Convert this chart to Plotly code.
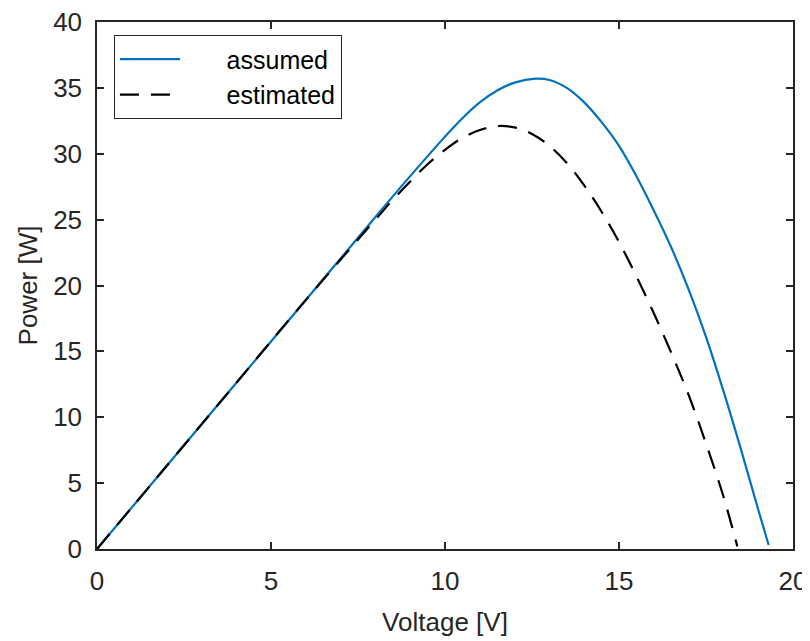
import plotly.graph_objects as go

# assumed curve (blue, solid)
v_assumed = [0, 2, 4, 6, 8, 9, 10, 10.5, 11, 11.5, 12, 12.6, 13, 13.5, 14, 14.5, 15,
             15.5, 16, 16.5, 17, 17.5, 18, 18.5, 19, 19.3]
p_assumed = [0, 6.3, 12.6, 18.9, 25.2, 28.3, 31.3, 32.7, 33.9, 34.8, 35.4, 35.7, 35.6, 35.0, 33.9, 32.4, 30.6,
             28.3, 25.7, 22.9, 19.7, 16.1, 12.0, 7.6, 3.0, 0.3]

# estimated curve (black, dashed)
v_estimated = [0, 2, 4, 6, 8, 8.5, 9, 9.5, 10, 10.5, 11, 11.5, 12, 12.5, 13, 13.5, 14,
               14.5, 15, 15.5, 16, 16.5, 17, 17.5, 18, 18.4]
p_estimated = [0, 6.3, 12.6, 18.9, 25.0, 26.5, 27.9, 29.2, 30.3, 31.2, 31.8, 32.1, 32.0, 31.5, 30.6, 29.3, 27.6,
               25.6, 23.3, 20.7, 17.9, 14.9, 11.7, 8.0, 4.0, 0.2]

x_ticks = [0, 5, 10, 15, 20]
y_ticks = [0, 5, 10, 15, 20, 25, 30, 35, 40]

txt = '#262626'
pad = '\u00a0' * 6  # widen legend like matlab's long line samples

fig = go.Figure()
fig.add_trace(go.Scatter(x=v_assumed, y=p_assumed, mode='lines', name=pad + 'assumed',
                         line=dict(color='#0072BD', width=2.2, shape='spline', smoothing=1)))
fig.add_trace(go.Scatter(x=v_estimated, y=p_estimated, mode='lines', name=pad + 'estimated',
                         line=dict(color='black', width=2.2, dash='19px,12px', shape='spline', smoothing=1)))

axis_style = dict(showline=True, linecolor=txt, linewidth=1.5, mirror='ticks',
                  ticks='inside', ticklen=7, tickwidth=1.5, tickcolor=txt,
                  showgrid=False, zeroline=False, automargin=False,
                  ticklabelstandoff=8, ticklabeloverflow='allow',
                  tickfont=dict(family='Liberation Sans, Arial', size=26, color=txt))

# page body adds 8px offset, so size/margins are shifted accordingly
fig.update_layout(
    width=802, height=633,
    plot_bgcolor='white', paper_bgcolor='white',
    margin=dict(l=89, r=17, t=14, b=92),
    font=dict(family='Liberation Sans, Arial', color=txt),
    xaxis=dict(range=[0, 20], tickvals=x_ticks,
               title=dict(text='Voltage [V]', font=dict(size=26, color=txt), standoff=18),
               **axis_style),
    yaxis=dict(range=[0, 40], tickvals=y_ticks,
               title=dict(text='Power [W]', font=dict(size=26, color=txt), standoff=8),
               **axis_style),
    legend=dict(x=0.024, y=0.975, xanchor='left', yanchor='top',
                bgcolor='white', bordercolor=txt, borderwidth=1.2,
                font=dict(size=25, color='black'), itemwidth=60,
                tracegroupgap=0),
    showlegend=True,
)

fig.write_html("out.html")
